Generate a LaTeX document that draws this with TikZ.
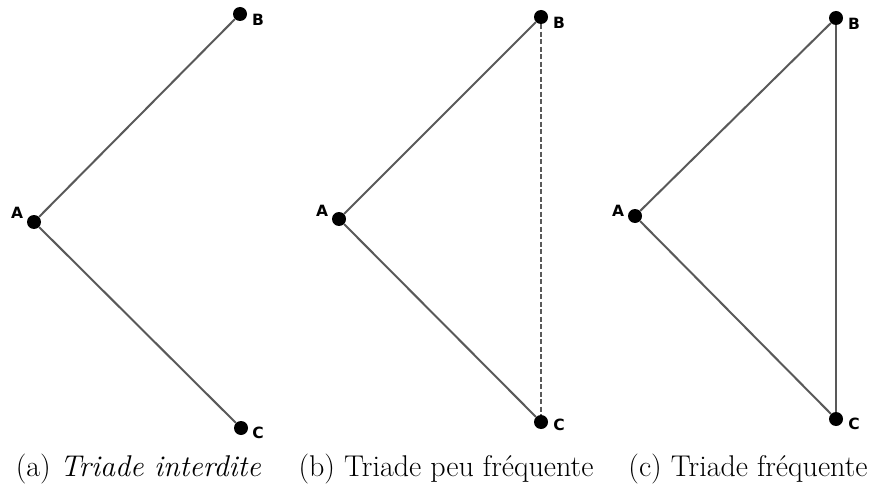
\documentclass[tikz,border=0pt]{standalone}
\usepackage{fontspec}
\newfontfamily\labfont{DejaVu Sans}
\begin{document}
\begin{tikzpicture}[x=1pt,y=-1pt]
\tikzset{
  dot/.style={circle,fill=black,inner sep=0pt,minimum size=14pt},
  lab/.style={font=\labfont\bfseries\fontsize{15.5}{16}\selectfont,inner sep=0pt},
  edge/.style={draw=black!65,line width=2pt},
  dashedge/.style={draw=black!65,line width=1.3pt,dash pattern=on 5pt off 2.5pt},
  captext/.style={font=\fontsize{30}{34}\selectfont,inner sep=0pt,anchor=base}
}
\useasboundingbox (0,0) rectangle (880,489);
% (a)
\node[dot] (aA) at (34,222) {};
\node[dot] (aB) at (240,14) {};
\node[dot] (aC) at (241,428) {};
\node[lab] (laA) at (17,213) {A};
\node[lab] (laB) at (258,20) {B};
\node[lab] (laC) at (258,433) {C};
\draw[edge] (aA) -- (aB);
\draw[edge] (aA) -- (aC);
% (b)
\node[dot] (bA) at (339,219) {};
\node[dot] (bB) at (541,17) {};
\node[dot] (bC) at (541,422) {};
\node[lab] (lbA) at (322,211) {A};
\node[lab] (lbB) at (559,23) {B};
\node[lab] (lbC) at (559,425) {C};
\draw[edge] (bA) -- (bB);
\draw[edge] (bA) -- (bC);
\draw[dashedge] (bB) -- (bC);
% (c)
\node[dot] (cA) at (635,216) {};
\node[dot] (cB) at (836,18) {};
\node[dot] (cC) at (836,419) {};
\node[lab] (lcA) at (618,211) {A};
\node[lab] (lcB) at (854,24) {B};
\node[lab] (lcC) at (854,424) {C};
\draw[edge] (cA) -- (cB);
\draw[edge] (cA) -- (cC);
\draw[edge] (cB) -- (cC);
% captions
\node[captext] (capa) at (138.5,476) {(a) \textit{Triade interdite}};
\node[captext] (capb) at (446,476) {(b) Triade peu fréquente};
\node[captext] (capc) at (748,476) {(c) Triade fréquente};
\end{tikzpicture}
\end{document}
